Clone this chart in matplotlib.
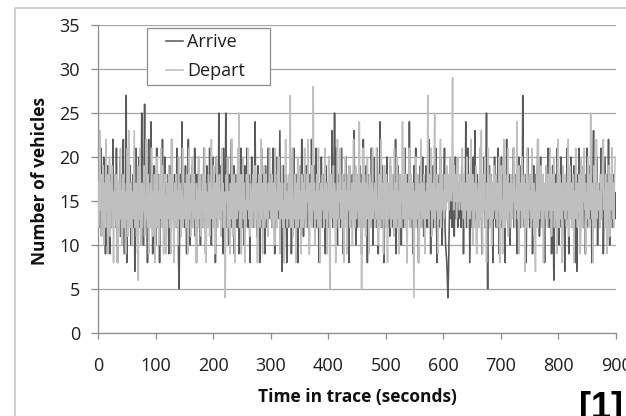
import numpy as np
import matplotlib
matplotlib.use("Agg")
import matplotlib.pyplot as plt
from matplotlib.patches import Rectangle

# vehicles counted per second over the 900 s trace (rough)
arrive = [
    33, 14, 18, 12, 16, 21, 11, 15, 13, 17, 20, 12, 16, 9, 18, 10, 15, 19, 13, 17, 14, 9, 18, 16, 12, 15, 22, 13, 17, 14,
    16, 12, 21, 14, 8, 17, 15, 13, 20, 11, 16, 18, 12, 15, 22, 13, 9, 17, 14, 27, 8, 15, 18, 12, 16, 14, 19, 10, 17, 13,
    15, 18, 12, 16, 7, 14, 21, 13, 17, 9, 15, 20, 12, 18, 14, 16, 25, 13, 17, 10, 19, 26, 14, 12, 18, 15, 8, 17, 22, 13,
    16, 12, 24, 14, 18, 9, 15, 19, 13, 17, 10, 16, 21, 12, 15, 18, 14, 8, 17, 13, 19, 15, 22, 12, 16, 14, 20, 10, 15, 17,
    13, 18, 15, 9, 19, 14, 16, 12, 22, 13, 17, 15, 10, 18, 14, 16, 12, 21, 13, 15, 8, 5, 14, 18, 11, 16, 24, 13, 17, 15,
    12, 16, 19, 14, 9, 17, 15, 22, 13, 18, 10, 16, 14, 19, 12, 15, 17, 13, 21, 11, 16, 8, 18, 12, 15, 20, 13, 17, 10, 16,
    14, 18, 12, 15, 21, 13, 17, 9, 16, 19, 14, 12, 18, 15, 21, 13, 16, 10, 17, 14, 20, 12, 15, 18, 8, 16, 20, 13, 17, 14,
    25, 13, 16, 19, 12, 15, 18, 9, 21, 14, 17, 13, 25, 12, 16, 20, 14, 10, 18, 15, 13, 17, 22, 12, 16, 14, 19, 9, 15, 18,
    13, 16, 12, 19, 15, 9, 17, 14, 21, 13, 16, 18, 12, 15, 10, 19, 14, 17, 13, 21, 16, 12, 18, 15, 8, 17, 14, 20, 13, 16,
    15, 12, 18, 24, 14, 17, 11, 16, 19, 13, 15, 8, 17, 14, 21, 12, 16, 18, 13, 15, 9, 19, 14, 17, 12, 16, 21, 13, 15, 18,
    14, 17, 12, 16, 21, 13, 15, 9, 18, 14, 20, 12, 16, 15, 13, 18, 23, 14, 11, 17, 7, 15, 19, 13, 16, 12, 18, 14, 8, 17,
    15, 12, 18, 14, 16, 20, 9, 15, 17, 13, 21, 14, 12, 16, 18, 13, 15, 8, 17, 14, 19, 12, 16, 15, 22, 13, 17, 11, 18, 14,
    16, 13, 19, 12, 15, 17, 14, 9, 18, 15, 13, 22, 16, 12, 17, 14, 19, 13, 15, 21, 12, 16, 18, 14, 8, 17, 15, 13, 20, 16,
    12, 15, 18, 14, 16, 9, 19, 13, 17, 15, 12, 20, 14, 16, 18, 13, 15, 23, 12, 17, 14, 25, 16, 13, 21, 15, 10, 17, 14, 18,
    13, 16, 12, 21, 15, 17, 9, 14, 18, 13, 16, 20, 12, 15, 17, 14, 8, 19, 13, 16, 15, 12, 18, 14, 17, 23, 13, 16, 10, 15,
    18, 14, 12, 17, 15, 19, 13, 16, 9, 18, 14, 22, 12, 15, 17, 13, 19, 16, 8, 14, 18, 12, 15, 17, 13, 21, 16, 14, 10, 20,
    15, 13, 17, 12, 16, 21, 14, 9, 18, 15, 24, 13, 16, 12, 19, 14, 17, 8, 15, 18, 13, 16, 20, 12, 14, 17, 15, 11, 19, 13,
    16, 14, 18, 12, 15, 17, 13, 22, 9, 16, 14, 19, 12, 15, 18, 13, 17, 10, 16, 14, 20, 12, 15, 21, 13, 17, 14, 8, 18, 15,
    13, 24, 16, 12, 18, 14, 17, 9, 15, 19, 13, 16, 21, 12, 14, 18, 15, 8, 17, 13, 19, 16, 12, 15, 20, 14, 11, 17, 13, 16,
    19, 14, 12, 17, 15, 22, 13, 16, 9, 18, 14, 15, 19, 12, 17, 13, 16, 21, 14, 8, 18, 15, 12, 17, 14, 20, 13, 16, 10, 15,
    14, 17, 21, 12, 10, 9, 8, 6, 4, 7, 11, 15, 18, 13, 16, 12, 19, 14, 17, 11, 15, 20, 13, 16, 18, 12, 15, 14, 17, 13,
    16, 12, 19, 14, 17, 9, 15, 18, 13, 24, 16, 12, 15, 21, 14, 17, 8, 13, 18, 15, 12, 16, 20, 14, 17, 23, 13, 15, 10, 18,
    14, 17, 12, 16, 21, 13, 15, 9, 18, 14, 16, 20, 12, 15, 17, 25, 13, 5, 16, 14, 19, 12, 15, 18, 13, 17, 8, 16, 14, 20,
    13, 16, 12, 18, 15, 21, 14, 9, 17, 13, 16, 20, 12, 15, 18, 14, 17, 8, 16, 13, 22, 15, 12, 17, 14, 18, 10, 16, 13, 15,
    17, 14, 21, 12, 16, 13, 18, 15, 9, 17, 14, 20, 13, 16, 12, 19, 15, 14, 27, 13, 16, 12, 18, 15, 8, 17, 14, 21, 13, 16,
    12, 15, 18, 14, 17, 9, 16, 19, 13, 15, 12, 18, 14, 16, 22, 13, 17, 11, 15, 20, 14, 12, 16, 18, 13, 15, 8, 17, 14, 19,
    15, 13, 21, 16, 12, 18, 14, 17, 9, 15, 19, 13, 6, 16, 12, 18, 14, 15, 21, 13, 17, 10, 16, 14, 20, 12, 15, 18, 13, 16,
    14, 7, 17, 12, 16, 21, 13, 15, 9, 18, 14, 16, 20, 12, 15, 17, 13, 19, 14, 8, 16, 12, 7, 15, 18, 13, 21, 14, 10, 16,
    19, 13, 15, 12, 17, 14, 18, 9, 16, 13, 21, 15, 12, 17, 14, 19, 13, 16, 8, 15, 18, 23, 14, 12, 17, 15, 13, 20, 10, 16,
    14, 17, 12, 16, 21, 13, 15, 18, 9, 14, 17, 20, 13, 16, 12, 18, 15, 22, 14, 10, 17, 13, 16, 21, 12, 15, 18, 14, 16, 13,
]

depart = [
    17, 12, 15, 23, 14, 18, 11, 16, 13, 19, 10, 15, 17, 12, 22, 14, 16, 9, 18, 13, 20, 11, 17, 14, 19, 12, 16, 8, 15, 18,
    13, 16, 12, 18, 8, 15, 17, 11, 14, 21, 13, 16, 10, 18, 15, 12, 17, 14, 9, 16, 13, 21, 11, 15, 23, 14, 12, 17, 15, 10,
    16, 13, 18, 23, 12, 15, 17, 11, 14, 19, 6, 16, 13, 21, 15, 10, 17, 12, 16, 14, 19, 11, 15, 13, 22, 16, 12, 18, 9, 15,
    14, 17, 12, 21, 15, 11, 16, 13, 18, 8, 15, 17, 12, 20, 14, 16, 10, 18, 13, 15, 21, 12, 19, 14, 9, 16, 18, 13, 9, 15,
    17, 13, 16, 19, 12, 15, 18, 9, 14, 22, 13, 16, 8, 17, 15, 12, 18, 14, 16, 10, 20, 13, 15, 17, 11, 16, 14, 21, 12, 15,
    13, 17, 15, 12, 18, 14, 9, 16, 21, 13, 15, 11, 17, 14, 20, 12, 16, 18, 13, 15, 8, 17, 14, 16, 12, 20, 15, 13, 18, 11,
    16, 14, 18, 12, 15, 21, 13, 17, 8, 16, 14, 12, 18, 15, 11, 17, 13, 22, 14, 16, 12, 19, 15, 9, 17, 13, 16, 20, 14, 12,
    15, 18, 13, 16, 11, 21, 14, 17, 12, 15, 16, 4, 13, 18, 15, 20, 12, 16, 14, 9, 17, 13, 15, 22, 11, 16, 14, 18, 8, 15,
    17, 13, 16, 21, 14, 25, 12, 15, 18, 9, 16, 14, 20, 13, 17, 8, 15, 12, 18, 14, 16, 21, 13, 15, 11, 17, 14, 16, 12, 18,
    14, 16, 12, 19, 15, 13, 17, 8, 16, 14, 18, 12, 15, 22, 13, 17, 9, 16, 14, 19, 12, 15, 18, 13, 16, 11, 17, 14, 21, 15,
    13, 16, 18, 12, 15, 17, 14, 10, 21, 13, 16, 12, 18, 15, 14, 20, 9, 17, 13, 16, 19, 12, 15, 8, 17, 14, 22, 13, 16, 12,
    15, 18, 13, 16, 27, 12, 17, 14, 21, 11, 15, 13, 18, 16, 8, 17, 14, 20, 12, 15, 19, 13, 16, 9, 18, 14, 12, 17, 15, 21,
    13, 16, 12, 18, 15, 22, 14, 9, 17, 13, 16, 19, 12, 15, 28, 14, 17, 10, 16, 13, 18, 15, 12, 21, 14, 16, 8, 17, 13, 15,
    18, 14, 16, 12, 21, 15, 13, 17, 9, 16, 14, 20, 12, 5, 15, 18, 13, 16, 14, 19, 12, 17, 15, 8, 16, 13, 22, 14, 12, 17,
    15, 21, 13, 16, 12, 18, 14, 8, 17, 15, 20, 13, 16, 9, 18, 14, 15, 19, 12, 16, 13, 17, 10, 15, 22, 14, 12, 16, 19, 13,
    16, 14, 18, 12, 24, 15, 13, 17, 5, 16, 21, 14, 12, 18, 15, 11, 17, 13, 20, 16, 14, 9, 18, 15, 12, 17, 14, 21, 13, 16,
    14, 17, 12, 16, 21, 13, 15, 10, 18, 14, 16, 12, 22, 15, 13, 17, 9, 16, 19, 14, 12, 18, 15, 8, 17, 13, 16, 14, 20, 12,
    15, 18, 13, 16, 11, 21, 14, 17, 12, 15, 20, 13, 16, 9, 18, 14, 12, 17, 15, 24, 13, 16, 21, 12, 15, 18, 14, 8, 17, 13,
    16, 21, 14, 12, 18, 15, 13, 17, 11, 4, 16, 14, 20, 12, 15, 18, 13, 17, 8, 16, 14, 22, 12, 15, 17, 13, 18, 14, 9, 16,
    14, 17, 13, 27, 15, 12, 18, 16, 14, 21, 11, 15, 17, 13, 20, 25, 12, 16, 14, 18, 15, 9, 17, 13, 16, 22, 12, 15, 18, 14,
    16, 13, 18, 15, 17, 14, 19, 16, 15, 18, 14, 17, 20, 16, 15, 18, 29, 17, 14, 19, 16, 15, 18, 13, 17, 20, 15, 16, 14, 18,
    15, 17, 14, 21, 16, 13, 18, 15, 12, 17, 14, 20, 16, 12, 18, 15, 13, 17, 22, 14, 16, 10, 18, 15, 12, 17, 14, 19, 9, 16,
    14, 17, 12, 16, 21, 13, 23, 15, 9, 18, 14, 16, 20, 12, 15, 8, 17, 13, 21, 16, 14, 12, 18, 15, 10, 17, 13, 16, 19, 14,
    16, 13, 18, 15, 12, 17, 14, 20, 8, 16, 19, 13, 15, 9, 17, 22, 14, 12, 18, 15, 16, 13, 21, 11, 17, 14, 16, 12, 18, 15,
    13, 17, 15, 21, 12, 16, 14, 18, 24, 13, 16, 9, 19, 15, 14, 17, 12, 20, 15, 13, 16, 18, 7, 14, 17, 12, 21, 15, 13, 16,
    18, 14, 16, 12, 21, 15, 13, 17, 11, 16, 7, 14, 18, 15, 12, 22, 16, 13, 17, 14, 19, 12, 15, 18, 8, 16, 14, 17, 13, 19,
    15, 12, 18, 14, 16, 21, 13, 17, 11, 15, 18, 14, 20, 12, 16, 13, 17, 9, 15, 22, 14, 12, 18, 16, 13, 17, 8, 15, 19, 14,
    16, 13, 18, 15, 12, 17, 14, 22, 11, 16, 19, 13, 15, 17, 12, 18, 14, 8, 16, 15, 21, 13, 17, 12, 16, 14, 18, 9, 15, 20,
    13, 16, 12, 18, 15, 21, 14, 17, 9, 16, 13, 20, 15, 12, 18, 14, 25, 16, 13, 17, 8, 15, 19, 12, 16, 14, 22, 13, 15, 17,
    14, 16, 12, 18, 15, 13, 17, 21, 22, 14, 16, 12, 18, 15, 9, 17, 13, 19, 16, 11, 18, 14, 15, 21, 13, 17, 12, 16, 19, 20,
]

xticks = [0, 100, 200, 300, 400, 500, 600, 700, 800, 900]
yticks = [0, 5, 10, 15, 20, 25, 30, 35]

W, H = 626, 416
plt.rcParams['font.family'] = ['Open Sans', 'DejaVu Sans']

fig = plt.figure(figsize=(W / 100, H / 100), dpi=100)

# light outer chart-area border (runs off the right and bottom edges)
fig.patches.append(Rectangle((15 / W, -0.2), 1.2, 1.2 - 8 / H, transform=fig.transFigure,
                             fill=False, edgecolor='#c8c8c8', linewidth=1.2))

ax = fig.add_axes([98 / W, 1 - 333 / H, (616 - 98) / W, (333 - 25) / H])

ax.plot(np.arange(len(arrive)), arrive, color='#5a5a5a', linewidth=1.15, label='Arrive', zorder=2)
ax.plot(np.arange(len(depart)), depart, color='#bfbfbf', linewidth=1.15, label='Depart', zorder=3)

ax.set_xlim(0, 900)
ax.set_ylim(0, 35)
ax.set_xticks(xticks)
ax.set_yticks(yticks)
ax.grid(axis='y', color='#a6a6a6', linewidth=0.9)
ax.set_axisbelow(True)
for side in ['top', 'right']:
    ax.spines[side].set_visible(False)
for side in ['left', 'bottom']:
    ax.spines[side].set_color('#8c8c8c')
    ax.spines[side].set_linewidth(0.9)
ax.tick_params(axis='both', colors='#8c8c8c', labelcolor='#1e1e1e', labelsize=13, width=0.9)
ax.tick_params(axis='x', length=4, pad=13)
ax.tick_params(axis='y', length=5, pad=8)

fig.text(357 / W, 1 - 397 / H, 'Time in trace (seconds)', ha='center', va='center',
         fontsize=12.5, fontweight='bold', color='#111111')
fig.text(40 / W, 1 - 181 / H, 'Number of vehicles', ha='center', va='center', rotation=90,
         fontsize=12.5, fontweight='bold', color='#111111')

# legend box drawn by hand so the padding matches the reference
ax.add_patch(Rectangle((147 / W, 1 - 85 / H), 123 / W, 57 / H, transform=fig.transFigure,
                       facecolor='white', edgecolor='#8c8c8c', linewidth=0.9, zorder=4, clip_on=False))
leg = ax.legend(loc='upper left', bbox_to_anchor=(166 / W, 1 - 33 / H), bbox_transform=fig.transFigure,
                frameon=False, fontsize=13, handlelength=0.95, handletextpad=0.2,
                labelspacing=0.62, borderpad=0.0, borderaxespad=0)
leg.set_zorder(5)
for txt in leg.get_texts():
    txt.set_color('#1e1e1e')

fig.text(579 / W, -2 / H, '[1]', ha='left', va='baseline', fontsize=26, fontweight='bold',
         family='Liberation Sans', color='black')

fig.savefig('out.png', dpi=100)
